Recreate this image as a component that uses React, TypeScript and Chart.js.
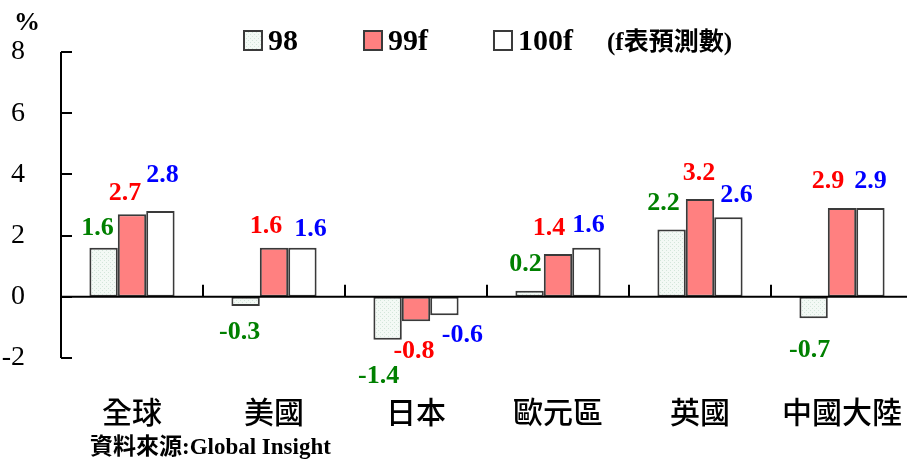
import React, { useEffect, useRef } from "react";
import { Chart, registerables } from "chart.js";

Chart.register(...registerables);

// ---- data ----
const categories = ["全球", "美國", "日本", "歐元區", "英國", "中國大陸"];
const seriesNames = ["98", "99f", "100f"];
const values98 = [1.6, -0.3, -1.4, 0.2, 2.2, -0.7];
const values99f = [2.7, 1.6, -0.8, 1.4, 3.2, 2.9];
const values100f = [2.8, 1.6, -0.6, 1.6, 2.6, 2.9];
const yMin = -2;
const yMax = 8;
const yStep = 2;

const unitText = "%";
const forecastNote = "(f表預測數)";
const sourceText = "資料來源:Global Insight";

// ---- styling ----
const SERIF = "'Liberation Serif', 'Times New Roman', 'Noto Sans CJK TC', serif";
const CJK = "'Noto Sans CJK TC', 'Noto Sans CJK SC', sans-serif";
const labelColors = ["#008000", "#ff0000", "#0000ff"];
const barBorder = "#3a3a3a";

// hand-placed nudges for the value labels (px, relative to the bar end)
const labelNudges: [number, number][][] = [
  [[-6, -20], [-6, 26], [-9, 37], [-4, -26], [-8, -26], [-4, 32]],
  [[-7, -21], [-8, -22], [-2, 30], [-9, -26], [-1, -26], [-14, -27]],
  [[2, -36], [8, -19], [18, 20], [2, -23], [8, -22], [0, -27]],
];

function makeDotPattern(): CanvasPattern | string {
  const c = document.createElement("canvas");
  c.width = 4;
  c.height = 4;
  const g = c.getContext("2d");
  if (!g) return "#eef6f1";
  g.fillStyle = "#f3f9f5";
  g.fillRect(0, 0, 4, 4);
  g.fillStyle = "#d3e6da";
  g.fillRect(0, 0, 1, 1);
  g.fillRect(2, 2, 1, 1);
  const p = g.createPattern(c, "repeat");
  return p || "#eef6f1";
}

const axisMarks = {
  id: "axisMarks",
  afterDatasetsDraw(chart: any) {
    const { ctx, chartArea, scales } = chart;
    const y = scales.y;
    const x = scales.x;
    const y0 = y.getPixelForValue(0);
    ctx.save();
    ctx.strokeStyle = "#000";
    ctx.lineWidth = 2;
    // vertical axis line
    ctx.beginPath();
    ctx.moveTo(chartArea.left, chartArea.top);
    ctx.lineTo(chartArea.left, chartArea.bottom);
    ctx.stroke();
    // inward ticks
    for (let v = yMin; v <= yMax; v += yStep) {
      const py = Math.round(y.getPixelForValue(v));
      ctx.beginPath();
      ctx.moveTo(chartArea.left, py);
      ctx.lineTo(chartArea.left + 11, py);
      ctx.stroke();
    }
    // zero line
    ctx.beginPath();
    ctx.moveTo(chartArea.left, y0);
    ctx.lineTo(chartArea.right, y0);
    ctx.stroke();
    // category boundary ticks
    const n = categories.length;
    const step = x.getPixelForValue(1) - x.getPixelForValue(0);
    for (let i = 1; i <= n; i++) {
      const px = x.getPixelForValue(i - 1) + step / 2;
      ctx.beginPath();
      ctx.moveTo(px, y0 - 12);
      ctx.lineTo(px, y0);
      ctx.stroke();
    }
    ctx.restore();
  },
};

const valueLabels = {
  id: "valueLabels",
  afterDatasetsDraw(chart: any) {
    const { ctx } = chart;
    ctx.save();
    ctx.font = `bold 26px ${SERIF}`;
    ctx.textAlign = "center";
    ctx.textBaseline = "middle";
    chart.data.datasets.forEach((ds: any, di: number) => {
      const meta = chart.getDatasetMeta(di);
      meta.data.forEach((bar: any, i: number) => {
        const v = ds.data[i];
        const [dx, dy] = labelNudges[di][i];
        ctx.fillStyle = labelColors[di];
        ctx.fillText(v.toFixed(1), bar.x + dx, bar.y + dy);
      });
    });
    ctx.restore();
  },
};

const decorations = {
  id: "decorations",
  afterDraw(chart: any) {
    const { ctx } = chart;
    ctx.save();
    // unit
    ctx.fillStyle = "#000";
    ctx.font = `bold 26px ${SERIF}`;
    ctx.textAlign = "left";
    ctx.textBaseline = "alphabetic";
    ctx.fillText(unitText, 14, 30);

    // legend
    let lx = 243;
    const boxTop = 30;
    chart.data.datasets.forEach((ds: any) => {
      ctx.fillStyle = ds.backgroundColor;
      ctx.fillRect(lx, boxTop, 20, 21);
      ctx.strokeStyle = barBorder;
      ctx.lineWidth = 2;
      ctx.strokeRect(lx + 1, boxTop + 1, 18, 19);
      ctx.fillStyle = "#000";
      ctx.font = `bold 30px ${SERIF}`;
      ctx.textBaseline = "middle";
      ctx.fillText(ds.label, lx + 25, boxTop + 12);
      lx += 25 + ctx.measureText(ds.label).width + 65;
    });
    ctx.font = `bold 25px ${SERIF}`;
    ctx.textBaseline = "middle";
    ctx.fillText(forecastNote, 607, 44);

    // source
    ctx.font = `bold 23px ${SERIF}`;
    ctx.fillText(sourceText, 90, 448);
    ctx.restore();
  },
};

export default function App() {
  const ref = useRef<HTMLCanvasElement | null>(null);

  useEffect(() => {
    if (!ref.current) return;
    const pattern = makeDotPattern();
    const fills = [pattern, "#ff8080", "#ffffff"];
    const seriesValues = [values98, values99f, values100f];
    const chart = new Chart(ref.current, {
      type: "bar",
      data: {
        labels: categories,
        datasets: seriesNames.map((name, i) => ({
          label: name,
          data: seriesValues[i],
          backgroundColor: fills[i] as any,
          borderColor: barBorder,
          borderWidth: 2,
          borderSkipped: false,
          categoryPercentage: 0.6,
          barPercentage: 1.0,
        })),
      },
      options: {
        responsive: false,
        maintainAspectRatio: false,
        devicePixelRatio: 1,
        animation: false,
        layout: { padding: { top: 52, left: 0, right: 0, bottom: 0 } },
        plugins: {
          legend: { display: false },
          tooltip: { enabled: false },
        },
        scales: {
          x: {
            type: "category",
            offset: true,
            grid: { display: false },
            border: { display: false },
            ticks: {
              color: "#000",
              font: { family: CJK, size: 30, weight: "500" as any },
              padding: 28,
              maxRotation: 0,
              autoSkip: false,
            },
            afterFit: (s: any) => {
              s.height = 103;
              s.paddingLeft = 0;
              s.paddingRight = 0;
            },
          },
          y: {
            min: yMin,
            max: yMax,
            grid: { display: false },
            border: { display: false },
            ticks: {
              stepSize: yStep,
              color: "#000",
              font: { family: SERIF, size: 28 },
              padding: 28,
            },
            afterFit: (s: any) => {
              s.width = 61;
              s.paddingTop = 0;
              s.paddingBottom = 0;
            },
          },
        },
      },
      plugins: [axisMarks, valueLabels, decorations],
    });
    return () => chart.destroy();
  }, []);

  return (
    <div
      style={{
        position: "fixed",
        left: 0,
        top: 0,
        width: 907,
        height: 461,
        overflow: "hidden",
        background: "#fff",
      }}
    >
      <canvas ref={ref} width={913} height={461} style={{ width: 913, height: 461, display: "block" }} />
    </div>
  );
}
